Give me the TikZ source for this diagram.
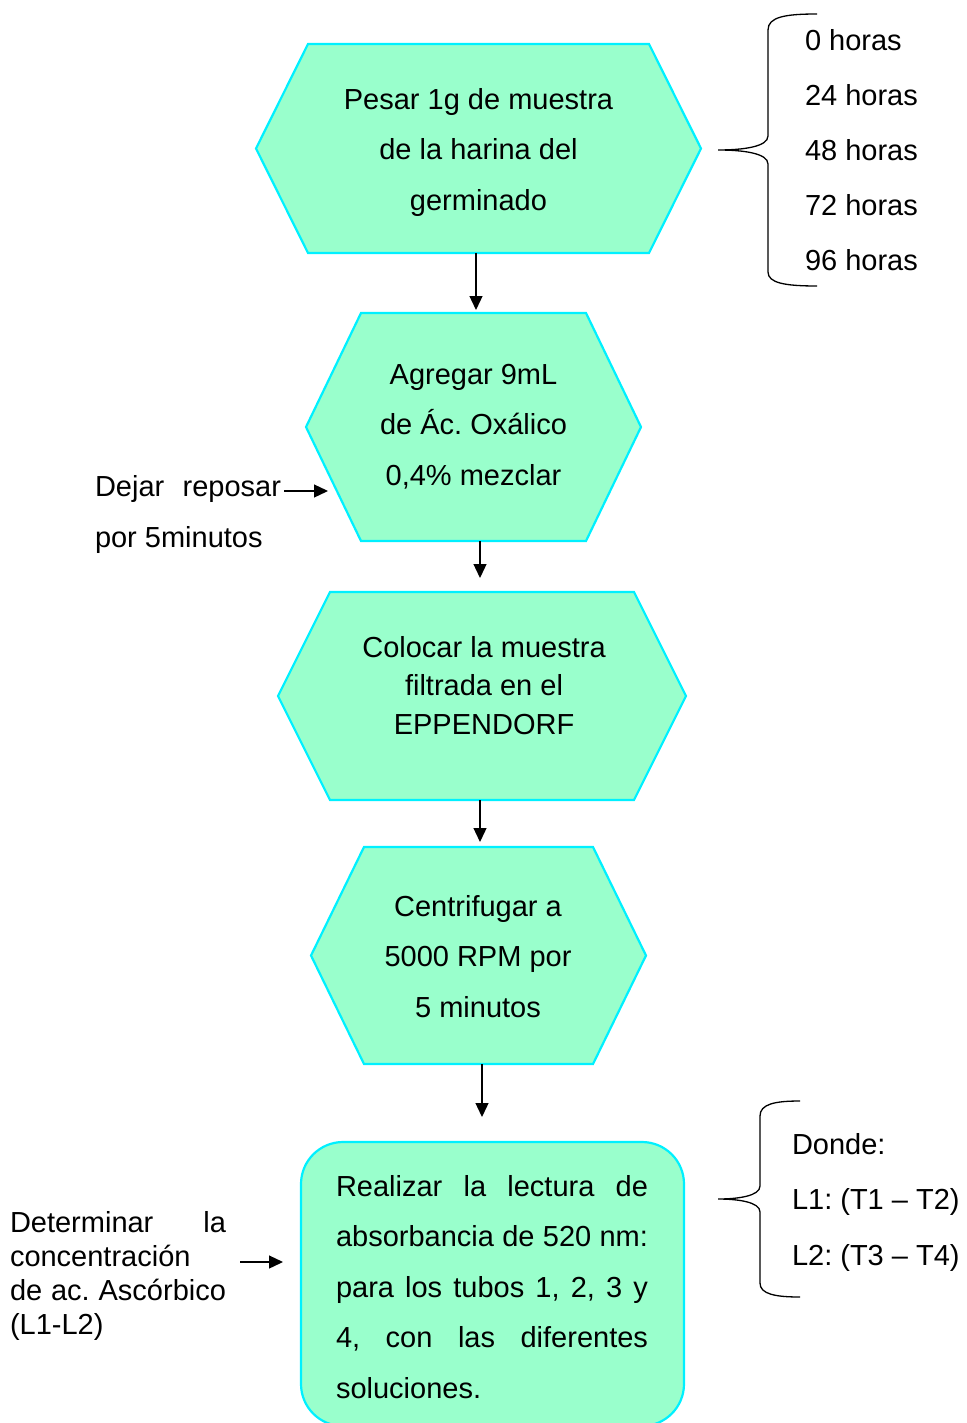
\documentclass[tikz,border=0pt]{standalone}
\usepackage{fontspec}
\setmainfont{Liberation Sans}
\usetikzlibrary{arrows.meta}
\definecolor{mint}{RGB}{153,255,204}
\definecolor{cyanb}{RGB}{0,240,255}
\newcommand\hexpath[2]{%
  \draw[hexsty] (#1.west) -- ([xshift=#2]#1.north west) -- ([xshift=-#2]#1.north east)
    -- (#1.east) -- ([xshift=-#2]#1.south east) -- ([xshift=#2]#1.south west) -- cycle;}
\begin{document}
\frenchspacing
\begin{tikzpicture}[x=1pt,y=-1pt,
  every node/.style={inner sep=0pt, outer sep=0pt},
  hexsty/.style={fill=mint, draw=cyanb, line width=2.2pt, line join=miter},
  frame/.style={minimum width=#1},
  txt/.style={font=\fontsize{29}{50.5}\selectfont, align=center, anchor=north},
  jtxt/.style={font=\fontsize{29}{#1}\selectfont, align=justify, anchor=north west},
  ltxt/.style={font=\fontsize{29}{#1}\selectfont, align=left, anchor=north west},
  arr/.style={-{Triangle[length=14pt,width=13pt]}, line width=1.3pt},
  bracesty/.style={line width=1.3pt}]
\path[use as bounding box, clip] (0,0) rectangle (966,1423);

% step 1
\node[frame=445, minimum height=209] (h1) at (478.5,148.5) {};
\hexpath{h1}{52}
\node[txt] (t1) at (478.5,74) {\strut Pesar 1g de muestra\\de la harina del\\germinado};

% step 2
\node[frame=335, minimum height=228] (h2) at (473.5,427) {};
\hexpath{h2}{55}
\node[txt] (t2) at (473.5,349) {\strut Agregar 9mL\\de Ác. Oxálico\\0,4\% mezclar};

% step 3
\node[frame=408, minimum height=208] (h3) at (482,696) {};
\hexpath{h3}{52}
\node[txt, font=\fontsize{29}{38.5}\selectfont] (t3) at (484,630.5) {\strut Colocar la muestra\\filtrada en el\\EPPENDORF};

% step 4
\node[frame=335, minimum height=217] (h4) at (478.5,955.5) {};
\hexpath{h4}{53}
\node[txt] (t4) at (478,881) {\strut Centrifugar a\\5000 RPM por\\5 minutos};

% step 5
\node[fill=mint, draw=cyanb, line width=2.2pt, rounded corners=42pt,
      minimum width=383, minimum height=284] (box) at (492.5,1284) {};
\node[jtxt=50.5, text width=312] (t5) at (336,1161)
  {\strut Realizar la lectura de\linebreak absorbancia de 520~nm:\linebreak para los tubos 1, 2, 3 y\linebreak 4, con las diferentes\linebreak soluciones.};

% side texts
\node[jtxt=51, text width=186] (d1) at (95,460.7) {\strut Dejar reposar\linebreak por 5minutos};
\node[jtxt=34, text width=216] (d2) at (10,1208.6)
  {\strut Determinar la\linebreak concentración\linebreak de ac. Ascórbico\linebreak (L1-L2)};
\node[ltxt=55] (hr) at (805,11.9) {\strut 0 horas\\24 horas\\48 horas\\72 horas\\96 horas};
\node[ltxt=55.5] (dn) at (792,1115.5) {\strut Donde:\\L1: (T1 – T2)\\L2: (T3 – T4)};

% braces
\draw[bracesty] (817,14) .. controls (785,14) and (768,17) .. (768,30) -- (768,136)
  .. controls (768,147) and (742,150) .. (718,150)
  .. controls (742,150) and (768,153) .. (768,164) -- (768,272)
  .. controls (768,283) and (785,286) .. (817,286);
\draw[bracesty] (800,1101) .. controls (775,1101) and (760,1104) .. (760,1116) -- (760,1186)
  .. controls (760,1196) and (738,1199) .. (718,1199)
  .. controls (738,1199) and (760,1202) .. (760,1212) -- (760,1283)
  .. controls (760,1294) and (775,1297) .. (800,1297);

% connectors
\draw[arr, shorten >=3pt] ([xshift=-2.5]h1.south) -- ([xshift=-2.5]h1.south |- h2.north);
\draw[arr, shorten >=14pt] ([xshift=6.5]h2.south) -- ([xshift=6.5]h2.south |- h3.north);
\draw[arr, shorten >=5pt] ([xshift=-2]h3.south) -- ([xshift=-2]h3.south |- h4.north);
\draw[arr, shorten >=25pt] ([xshift=3.5]h4.south) -- ([xshift=3.5]h4.south |- box.north);
\coordinate (a1) at (284,491);
\coordinate (a1e) at (328,491);
\draw[arr] (a1) -- (a1e);
\coordinate (a2) at (240,1262);
\draw[arr, shorten >=18pt] (a2) -- (a2 -| box.west);
\end{tikzpicture}
\end{document}
